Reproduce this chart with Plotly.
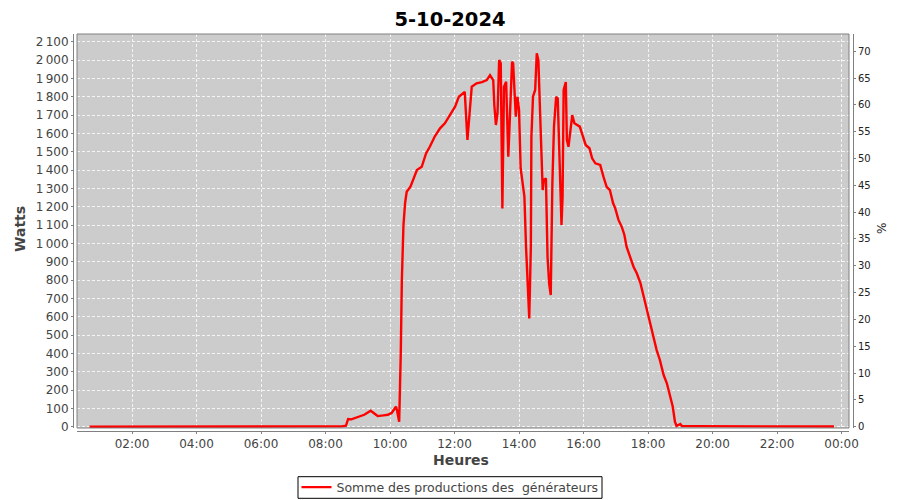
import plotly.graph_objects as go

DAY = "2024-10-05"
NEXT_DAY = "2024-10-06"

# time of day (HH:MM) and power in watts
times = [
    "00:41", "02:30", "02:35", "02:40", "03:20", "03:25", "03:30", "04:00", "04:05", "04:10",
    "04:50", "04:55", "05:00", "05:35", "05:40", "05:45", "07:00", "08:30", "08:38",
    "08:42", "08:48", "09:00", "09:12", "09:24", "09:30", "09:37", "09:48", "09:56", "10:03",
    "10:11", "10:13", "10:17", "10:20", "10:22", "10:25", "10:28", "10:31", "10:38", "10:50",
    "10:59", "11:07", "11:14", "11:23", "11:33", "11:42", "11:52", "12:01", "12:08", "12:16",
    "12:19", "12:24", "12:27", "12:32", "12:41", "12:51", "13:00", "13:06", "13:12", "13:14",
    "13:17", "13:20", "13:23", "13:26", "13:29", "13:32", "13:36", "13:40", "13:43", "13:47",
    "13:49", "13:54", "13:57", "14:00", "14:03", "14:07", "14:10", "14:13", "14:16", "14:19",
    "14:22", "14:23", "14:26", "14:30", "14:33", "14:36", "14:39", "14:42", "14:44", "14:46",
    "14:50", "14:53", "14:56", "14:59", "15:02", "15:05", "15:09", "15:12", "15:14", "15:17",
    "15:19", "15:21", "15:23", "15:27", "15:29", "15:32", "15:36", "15:39", "15:43", "15:53",
    "15:59", "16:04", "16:11", "16:16", "16:22", "16:31", "16:37", "16:43", "16:49", "16:55",
    "16:59", "17:05", "17:11", "17:16", "17:20", "17:26", "17:33", "17:39", "17:46", "17:52",
    "17:58", "18:04", "18:10", "18:16", "18:22", "18:29", "18:35", "18:41", "18:46", "18:50",
    "18:53", "19:00", "19:03", "19:30", "20:00", "20:30", "21:00", "22:00", "23:00", "23:46",
]
watts = [
    0, 0, 3, 0, 0, 3, 0, 0, 2, 0,
    0, 3, 0, 0, 3, 0, 0, 2, 5,
    42, 40, 52, 65, 87, 72, 58, 62, 65, 75,
    109, 90, 27, 400, 800, 1100, 1220, 1282, 1309, 1400,
    1418, 1491, 1527, 1582, 1628, 1655, 1700, 1746, 1800, 1818,
    1827, 1564, 1673, 1855, 1873, 1880, 1891, 1918, 1891, 1755,
    1646, 1710, 2000, 1982, 1191, 1855, 1882, 1473, 1691, 1991,
    1982, 1691, 1800, 1728, 1410, 1309, 1255, 982, 782, 591,
    982, 1582, 1800, 1837, 2037, 2000, 1728, 1473, 1291, 1346,
    1355, 927, 782, 718, 1328, 1637, 1800, 1790, 1619, 1255,
    1100, 1255, 1837, 1880, 1564, 1527, 1637, 1700, 1655, 1637,
    1582, 1537, 1519, 1464, 1437, 1428, 1364, 1309, 1291, 1219,
    1191, 1128, 1091, 1046, 982, 927, 873, 837, 782, 709,
    637, 564, 491, 418, 364, 282, 237, 164, 109, 27,
    4, 15, 4, 3, 3, 2, 2, 2, 2, 1,
]

series_name = "Somme des productions des \u00a0générateurs"
title_text = "5-10-2024"

watt_ticks = list(range(0, 2101, 100))
watt_labels = [f"{v:,}".replace(",", "\u2009") for v in watt_ticks]
pct_ticks = list(range(0, 71, 5))
hour_ticks = ["02:00", "04:00", "06:00", "08:00", "10:00", "12:00",
              "14:00", "16:00", "18:00", "20:00", "22:00", "00:00"]

x_vals = [f"{DAY} {t}" for t in times]
hour_tick_vals = [f"{DAY} {h}" for h in hour_ticks[:-1]] + [f"{NEXT_DAY} 00:00"]

FONT = "DejaVu Sans"
TICK_COL = "#444444"
AXIS_COL = "#808080"

fig = go.Figure()
fig.add_trace(go.Scatter(
    x=x_vals, y=watts, mode="lines", name=series_name,
    line=dict(color="#ff0000", width=2.4),
    yaxis="y",
))
# empty trace so that the secondary (%) axis is drawn
fig.add_trace(go.Scatter(x=[x_vals[0]], y=[None], yaxis="y2", showlegend=False,
                         mode="lines", hoverinfo="skip"))

# the page puts the figure 8px in from the top-left corner
W, H = 892, 492
ml, mr, mt, mb = 65, 47, 26, 69
pw = W - ml - mr
ph = H - mt - mb


def px_x(X):  # figure pixel -> paper fraction
    return (X - ml) / pw


def px_y(Y):
    return (mt + ph - Y) / ph


fig.update_layout(
    width=W, height=H, autosize=False,
    margin=dict(l=ml, r=mr, t=mt, b=mb, pad=0),
    paper_bgcolor="white",
    plot_bgcolor="#cccccc",
    font=dict(family=FONT, color=TICK_COL),
    title=dict(text=f"<b>{title_text}</b>", x=442 / W, xref="container", xanchor="center",
               y=1 - 11.5 / H, yref="container", yanchor="middle",
               font=dict(family=FONT, size=19.5, color="#000000")),
    xaxis=dict(
        type="date", domain=[4 / pw, (pw - 4) / pw], anchor="free", position=0,
        range=[f"{DAY} 00:17:40", f"{NEXT_DAY} 00:13:50"],
        tickmode="array", tickvals=hour_tick_vals, ticktext=hour_ticks,
        showline=True, linecolor=AXIS_COL, linewidth=1,
        ticks="outside", ticklen=2, tickcolor=AXIS_COL,
        tickfont=dict(family=FONT, size=12, color=TICK_COL),
        showgrid=True, gridcolor="#f4f4f4", gridwidth=1, griddash="3px,2px",
        zeroline=False,
    ),
    yaxis=dict(
        domain=[3 / ph, 1], anchor="free", position=0,
        range=[-7.1, 2142.4],
        tickmode="array", tickvals=watt_ticks, ticktext=watt_labels,
        showline=True, linecolor=AXIS_COL, linewidth=1,
        ticks="outside", ticklen=2, tickcolor=AXIS_COL,
        tickfont=dict(family=FONT, size=12, color=TICK_COL),
        showgrid=True, gridcolor="#f4f4f4", gridwidth=1, griddash="3px,2px",
        zeroline=False,
    ),
    yaxis2=dict(
        overlaying="y", side="right", anchor="free", position=1,
        range=[-0.24, 73.22],
        tickmode="array", tickvals=pct_ticks, ticktext=[str(v) for v in pct_ticks],
        showline=True, linecolor=AXIS_COL, linewidth=1,
        ticks="outside", ticklen=2, tickcolor=AXIS_COL,
        tickfont=dict(family=FONT, size=10, color="#222222"),
        showgrid=False, zeroline=False,
    ),
    showlegend=True,
    legend=dict(
        orientation="h", xref="container", yref="container",
        x=442 / W, xanchor="center",
        y=1 - 479.5 / H, yanchor="middle",
        borderwidth=0, bgcolor="rgba(0,0,0,0)",
        font=dict(family=FONT, size=12.5, color=TICK_COL),
        itemwidth=30,
    ),
    annotations=[
        dict(text="<b>Watts</b>", xref="paper", yref="paper", x=0, y=0.5,
             xshift=-53, yshift=3.5, xanchor="center", yanchor="middle",
             textangle=-90, showarrow=False,
             font=dict(family=FONT, size=14, color=TICK_COL)),
        dict(text="<b>Heures</b>", xref="paper", yref="paper", x=0.5, y=0,
             xshift=-2, yshift=-29, xanchor="center", yanchor="middle",
             showarrow=False, font=dict(family=FONT, size=14, color=TICK_COL)),
        dict(text="%", xref="paper", yref="paper", x=1, y=0.5,
             xshift=29, yshift=3.5, xanchor="center", yanchor="middle",
             textangle=-90, showarrow=False,
             font=dict(family=FONT, size=12, color="#222222")),
    ],
    shapes=[
        dict(type="rect", xref="x domain", yref="y domain", x0=0, x1=1, y0=0, y1=1,
             line=dict(color=AXIS_COL, width=1), fillcolor="rgba(0,0,0,0)", layer="above"),
        # legend frame
        dict(type="rect", xref="paper", yref="paper",
             x0=px_x(290), x1=px_x(594), y0=px_y(468.7), y1=px_y(490.3),
             line=dict(color="#000000", width=1), fillcolor="white", layer="below"),
    ],
)

fig.write_html("out.html")
